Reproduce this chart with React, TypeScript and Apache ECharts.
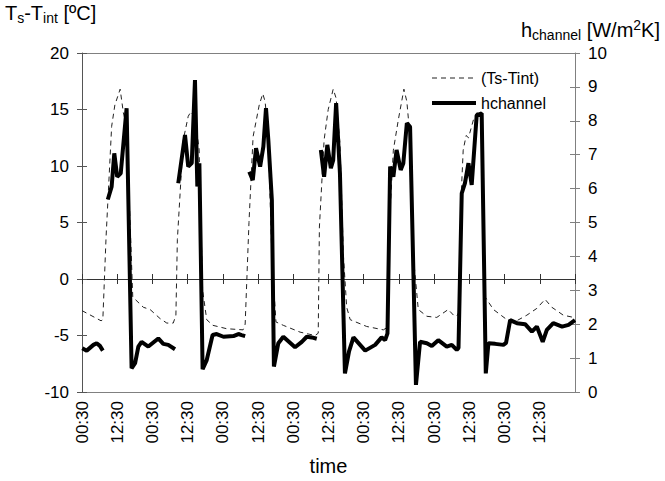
import React, { useEffect, useRef } from "react";
import * as echarts from "echarts";

// time in hours since the first 00:30 label
const tsTime = [0, 6.5, 7.1, 8.2, 10.1, 11.2, 13.0, 14.1, 15.2, 17.3, 20.9, 23.2, 26.6, 28.9, 31.1, 32.0, 32.5, 34.5, 36.2, 37.1, 38.5, 39.9, 41.1, 42.5, 44.6, 49.3, 54.9, 55.6, 56.9, 58.3, 60.4, 61.6, 62.4, 63.4, 64.7, 66.1, 68.6, 74.3, 79.4, 80.5, 80.9, 82.5, 83.9, 85.6, 86.6, 87.9, 89.1, 90.2, 91.4, 97.0, 102.7, 103.9, 104.7, 106.1, 107.8, 109.7, 110.7, 111.8, 112.9, 114.6, 117.5, 120.9, 124.8, 126.6, 127.7, 128.3, 129.4, 129.9, 130.9, 131.7, 133.4, 134.5, 136.0, 136.8, 137.4, 140.2, 144.8, 148.1, 151.6, 155.0, 157.8, 160.1, 164.0, 167.5];
const tsValues = [-2.8, -3.7, -3.6, 3.7, 13.5, 15.4, 16.8, 14.7, 13.5, -1.6, -2.5, -2.7, -3.5, -3.9, -3.9, -3.2, 3.5, 12.3, 14.4, 14.8, 14.2, 11.5, -1.0, -3.6, -4.1, -4.4, -4.5, -4.0, 5.0, 12.6, 15.4, 16.4, 15.7, 13.0, 2.0, -3.8, -4.1, -4.7, -5.0, -4.8, 4.6, 12.3, 15.0, 16.8, 16.0, 12.0, 2.0, -2.5, -3.6, -4.2, -4.5, -4.3, 4.6, 11.4, 14.1, 16.8, 15.7, 12.5, 2.0, -2.7, -3.3, -3.4, -2.7, -3.2, -3.3, -3.0, 8.5, 11.4, 12.7, 12.5, 14.1, 14.7, 14.6, 2.0, -1.6, -2.7, -3.6, -3.7, -3.2, -2.6, -1.8, -2.5, -3.2, -3.4];

const hTime = [0.1, 1.6, 3.9, 5.0, 6.1, 7.1, 7.5,
  8.8, 10.1, 11.0, 12.0, 13.2, 15.2, 16.9, 18.1, 19.2, 20.3, 22.6, 26.0, 27.7, 29.4, 31.7, 32.2,
  32.8, 35.1, 36.2, 37.4, 38.5, 39.3, 40.0, 41.1, 42.5, 44.5, 45.9, 48.2, 51.6, 53.3, 54.4, 55.6, 56.3,
  57.0, 58.2, 59.3, 60.7, 61.8, 62.7, 63.5, 64.7, 65.4, 66.9, 68.6, 72.6, 74.9, 76.6, 78.3, 80.0, 80.7,
  81.4, 82.5, 83.6, 84.8, 85.6, 86.6, 87.9, 89.6, 91.0, 92.5, 96.5, 99.9, 102.1, 103.3, 104.1, 105.0, 106.1, 107.2, 108.6, 109.5, 110.7, 111.8, 113.8, 115.2, 117.5, 119.2, 121.4, 124.3, 126.0, 127.7, 128.3, 129.4, 130.5, 131.7, 132.8, 134.5, 136.2, 137.6, 138.5, 140.8, 143.6, 144.5, 145.9, 148.2, 151.0, 153.3, 155.0, 157.0, 158.4, 160.6, 163.6, 165.8, 168];
const hValues = [1.29, 1.22, 1.39, 1.44, 1.36, 1.22, null,
  5.68, 6.06, 7.04, 6.35, 6.45, 8.37, 0.70, 0.85, 1.34, 1.48, 1.34, 1.58, 1.42, 1.39, 1.26, null,
  6.16, 7.58, 6.65, 6.75, 9.2, 6.06, 6.75, 0.67, 0.94, 1.68, 1.71, 1.63, 1.65, 1.71, 1.68, 1.65, null,
  6.5, 6.25, 7.19, 6.65, 7.24, 8.37, 7.43, 5.66, 0.75, 1.44, 1.63, 1.32, 1.48, 1.63, 1.61, 1.57, null,
  7.14, 6.35, 7.29, 6.6, 6.84, 8.52, 6.45, 0.55, 1.2, 1.61, 1.22, 1.39, 1.61, 1.53, 1.73, 6.65, 6.35, 7.14, 6.55, 6.75, 7.93, 7.82, 0.21, 1.48, 1.44, 1.36, 1.53, 1.34, 1.39, 1.24, 1.3, 5.86, 6.16, 6.75, 6.11, 8.17, 8.22, 0.55, 1.44, 1.42, 1.39, 1.45, 2.12, 2.03, 2.0, 1.78, 1.93, 1.48, 1.83, 2.03, 1.93, 1.98, 2.12];

const tickLabels = ["00:30", "12:30"];
const seriesNames = ["(Ts-Tint)", "hchannel"];

const FONT = "'Liberation Sans', Arial, sans-serif";

export default function App() {
  const ref = useRef<HTMLDivElement>(null);
  useEffect(() => {
    if (!ref.current) return;
    const chart = echarts.init(ref.current, null, { renderer: "svg" });
    const xBase = { type: "value", min: 0, max: 168, interval: 12, splitLine: { show: false } };
    const yLeft = { type: "value", min: -10, max: 20, interval: 5, position: "left", splitLine: { show: false } };
    const yRight = { type: "value", min: 0, max: 10, interval: 1, position: "right", splitLine: { show: false } };
    const rich = {
      m: { fontSize: 20, fontFamily: FONT, fill: "#000", lineHeight: 24 },
      s: { fontSize: 14, fontFamily: FONT, fill: "#000", verticalAlign: "bottom", lineHeight: 12 },
      p: { fontSize: 14, fontFamily: FONT, fill: "#000", verticalAlign: "top", lineHeight: 14 },
    };
    chart.setOption({
      animation: false,
      backgroundColor: "#fff",
      textStyle: { fontFamily: FONT, color: "#000" },
      grid: { left: 82, right: 90, top: 53, bottom: 89, containLabel: false },
      legend: {
        data: seriesNames,
        orient: "vertical",
        left: 430,
        top: 70,
        padding: 0,
        itemWidth: 44,
        itemHeight: 14,
        itemGap: 9,
        textStyle: { fontSize: 16, color: "#000", fontFamily: FONT },
        itemStyle: { opacity: 0 },
        lineStyle: { width: "inherit", type: "inherit" },
      },
      graphic: [
        {
          type: "text",
          left: 5,
          top: 3,
          style: { text: "{m|T}{s|s}{m|-T}{s|int}{m| [ºC]}", rich },
        },
        {
          type: "text",
          right: 5,
          top: 18,
          style: { text: "{m|h}{s|channel}{m| [W/m}{p|2}{m|K]}", rich },
        },
      ],
      xAxis: [
        {
          ...xBase,
          position: "bottom",
          name: "time",
          nameLocation: "middle",
          nameGap: 64,
          nameTextStyle: { fontSize: 20, color: "#000", fontFamily: FONT },
          axisLine: { show: true, onZero: false, lineStyle: { color: "#808080", width: 1 } },
          axisTick: { show: false },
          axisLabel: {
            rotate: 90,
            margin: 9,
            fontSize: 17,
            color: "#000",
            fontFamily: FONT,
            showMaxLabel: false,
            formatter: (v: number) => (v >= 168 ? "" : tickLabels[Math.round(v / 12) % 2]),
          },
        },
        {
          ...xBase,
          position: "bottom",
          axisLine: { show: true, onZero: true, onZeroAxisIndex: 0, lineStyle: { color: "#333", width: 1 } },
          axisTick: { show: true, inside: false, length: 5, lineStyle: { color: "#333" } },
          axisLabel: { show: false },
        },
        {
          ...xBase,
          position: "bottom",
          axisLine: { show: false, onZero: true, onZeroAxisIndex: 0 },
          axisTick: { show: true, inside: true, length: 5, lineStyle: { color: "#333" } },
          axisLabel: { show: false },
        },
        {
          ...xBase,
          position: "top",
          axisLine: { show: true, onZero: false, lineStyle: { color: "#808080", width: 1 } },
          axisTick: { show: false },
          axisLabel: { show: false },
        },
      ],
      yAxis: [
        {
          ...yLeft,
          axisLine: { show: true, onZero: false, lineStyle: { color: "#555", width: 1 } },
          axisTick: { show: true, inside: false, length: 5, lineStyle: { color: "#555" } },
          axisLabel: { margin: 13, fontSize: 17, color: "#000", fontFamily: FONT },
        },
        {
          ...yRight,
          axisLine: { show: true, onZero: false, lineStyle: { color: "#808080", width: 1 } },
          axisTick: { show: true, inside: false, length: 5, lineStyle: { color: "#808080" } },
          axisLabel: { margin: 13, fontSize: 17, color: "#000", fontFamily: FONT },
        },
        {
          ...yLeft,
          axisLine: { show: false, onZero: false },
          axisTick: { show: true, inside: true, length: 5, lineStyle: { color: "#555" } },
          axisLabel: { show: false },
        },
        {
          ...yRight,
          axisLine: { show: false, onZero: false },
          axisTick: { show: true, inside: true, length: 5, lineStyle: { color: "#808080" } },
          axisLabel: { show: false },
        },
      ],
      series: [
        {
          name: seriesNames[0],
          type: "line",
          xAxisIndex: 0,
          yAxisIndex: 0,
          symbol: "none",
          showSymbol: false,
          data: tsTime.map((t, i) => [t, tsValues[i]]),
          lineStyle: { color: "#222", width: 1, type: [5, 4] },
          itemStyle: { color: "#222" },
          z: 2,
        },
        {
          name: seriesNames[1],
          type: "line",
          xAxisIndex: 0,
          yAxisIndex: 1,
          symbol: "none",
          showSymbol: false,
          connectNulls: false,
          data: hTime.map((t, i) => [t, hValues[i]]),
          lineStyle: { color: "#000", width: 4 },
          itemStyle: { color: "#000" },
          z: 3,
        },
      ],
    });
    return () => chart.dispose();
  }, []);
  return (
    <div
      ref={ref}
      style={{ position: "fixed", left: 0, top: 0, width: 665, height: 481, background: "#fff" }}
    />
  );
}
